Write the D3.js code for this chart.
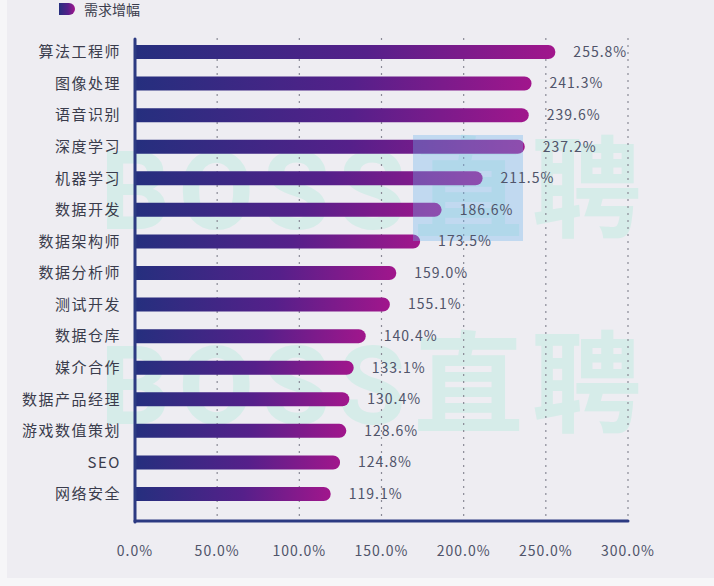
<!DOCTYPE html>
<html lang="zh">
<head>
<meta charset="utf-8">
<title>需求增幅</title>
<script src="https://d3js.org/d3.v7.min.js"></script>
<style>
  body { margin: 0; background: #f6f6f8; }
  text { font-family: "Noto Sans CJK SC", "Noto Sans", sans-serif; }
  text.wm { font-family: Roboto, "Liberation Sans", "Noto Sans CJK SC", sans-serif; }
</style>
</head>
<body>
<script>
// data
var categories = ["算法工程师", "图像处理", "语音识别", "深度学习", "机器学习", "数据开发",
  "数据架构师", "数据分析师", "测试开发", "数据仓库", "媒介合作", "数据产品经理",
  "游戏数值策划", "SEO", "网络安全"];
var values = [255.8, 241.3, 239.6, 237.2, 211.5, 186.6, 173.5, 159.0, 155.1, 140.4,
  133.1, 130.4, 128.6, 124.8, 119.1];
var ticks = [0, 50, 100, 150, 200, 250, 300];
var legendLabel = "需求增幅";

var W = 714, H = 586;
var svg = d3.select("body").append("svg").attr("width", W).attr("height", H);

var defs = svg.append("defs");
var grad = defs.append("linearGradient").attr("id", "barGrad")
  .attr("x1", "0%").attr("x2", "100%").attr("y1", "0%").attr("y2", "0%");
grad.append("stop").attr("offset", "0%").attr("stop-color", "#252f7e");
grad.append("stop").attr("offset", "55%").attr("stop-color", "#55208a");
grad.append("stop").attr("offset", "100%").attr("stop-color", "#a1168c");

// background
svg.append("rect").attr("x", 7).attr("y", 0).attr("width", W - 7).attr("height", 578).attr("fill", "#eeedf2");

var x = d3.scaleLinear().domain([0, 300]).range([135, 628]);
var y = d3.scalePoint().domain(categories).range([52, 494]);
var barH = 14;

// watermark (faint)
var wm = svg.append("g");
[190, 385].forEach(function(cy) {
  wm.append("text").attr("class", "wm").attr("x", 100).attr("y", cy).attr("dy", "0.35em")
    .attr("font-size", 110).attr("font-weight", "bold").attr("letter-spacing", 8)
    .attr("fill", "#d6ece9").text("BOSS直聘");
});

// dotted grid
svg.append("g").selectAll("line").data(ticks.slice(1)).enter().append("line")
  .attr("x1", function(d) { return x(d); }).attr("x2", function(d) { return x(d); })
  .attr("y1", 38).attr("y2", 521)
  .attr("stroke", "#8a8a96").attr("stroke-width", 1.2).attr("stroke-dasharray", "2,5");

// bars: flat left, rounded right
svg.append("g").selectAll("path").data(values).enter().append("path")
  .attr("d", function(d, i) {
    var x0 = x(0), x1 = x(d), yc = y(categories[i]), r = barH / 2;
    return "M" + x0 + "," + (yc - r) + "H" + (x1 - r) +
      "A" + r + "," + r + " 0 0 1 " + (x1 - r) + "," + (yc + r) + "H" + x0 + "Z";
  })
  .attr("fill", "url(#barGrad)");

// light blue overlay box seen in the picture
svg.append("rect").attr("x", 413).attr("y", 135).attr("width", 110).attr("height", 106)
  .attr("fill", "#6cb4ee").attr("opacity", 0.35);

// value labels
svg.append("g").selectAll("text").data(values).enter().append("text")
  .attr("x", function(d) { return x(d) + 18; })
  .attr("y", function(d, i) { return y(categories[i]); })
  .attr("dy", "0.35em").attr("font-size", 14).attr("letter-spacing", 1)
  .attr("fill", "#50546a").text(function(d) { return d.toFixed(1) + "%"; });

// category labels
svg.append("g").selectAll("text").data(categories).enter().append("text")
  .attr("x", 121).attr("y", function(d) { return y(d); }).attr("dy", "0.35em")
  .attr("text-anchor", "end").attr("font-size", 15).attr("letter-spacing", 1.5)
  .attr("fill", "#3a3c4c").text(function(d) { return d; });

// axes lines
svg.append("line").attr("x1", x(0)).attr("x2", x(0)).attr("y1", 39).attr("y2", 522)
  .attr("stroke", "#2c3a82").attr("stroke-width", 3).attr("stroke-linecap", "round");
svg.append("line").attr("x1", x(0)).attr("x2", x(300)).attr("y1", 521).attr("y2", 521)
  .attr("stroke", "#2c3a82").attr("stroke-width", 3).attr("stroke-linecap", "round");

// x tick labels
svg.append("g").selectAll("text").data(ticks).enter().append("text")
  .attr("x", function(d) { return x(d); }).attr("y", 551).attr("dy", "0.35em")
  .attr("text-anchor", "middle").attr("font-size", 14).attr("letter-spacing", 1)
  .attr("fill", "#50546a").text(function(d) { return d.toFixed(1) + "%"; });

// legend
var lg = svg.append("g");
lg.append("path").attr("d", "M59,3H69A6,6 0 0 1 69,15H59Z").attr("fill", "url(#barGrad)");
lg.append("text").attr("x", 84).attr("y", 10).attr("dy", "0.35em").attr("font-size", 14)
  .attr("fill", "#3a3c4c").text(legendLabel);
</script>
</body>
</html>
